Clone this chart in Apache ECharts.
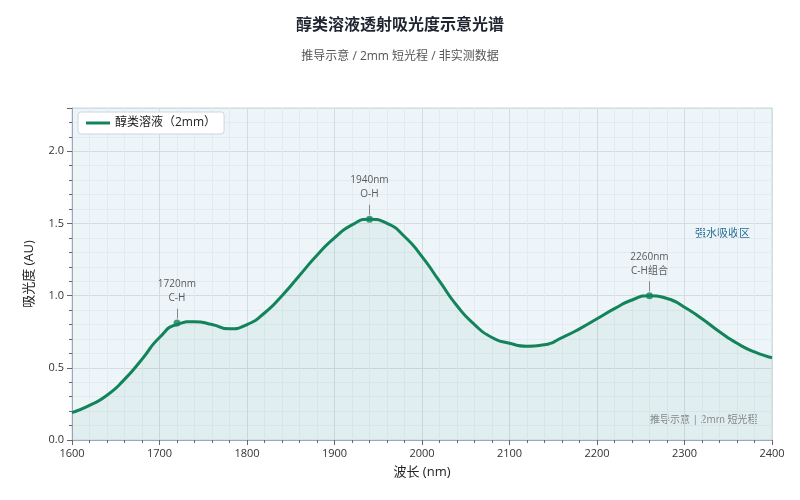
<!DOCTYPE html>
<html><head><meta charset="utf-8">
<script src="https://cdn.jsdelivr.net/npm/echarts@6/dist/echarts.min.js"></script>
<style>body{margin:0}#main{width:800px;height:500px}</style>
</head><body><div id="main"></div>
<script>
var wavelengths = [1600,1620,1640,1660,1680,1700,1720,1740,1760,1780,1800,1820,1840,1860,1880,1900,1920,1940,1960,1980,2000,2020,2040,2060,2080,2100,2120,2140,2160,2180,2200,2220,2240,2260,2280,2300,2320,2340,2360,2380,2400];
var absorbance = [0.19,0.24,0.31,0.42,0.56,0.71,0.80,0.82,0.80,0.77,0.80,0.88,1.00,1.14,1.28,1.40,1.49,1.53,1.50,1.41,1.27,1.10,0.93,0.80,0.71,0.67,0.65,0.66,0.71,0.77,0.84,0.91,0.97,1.00,0.98,0.92,0.84,0.75,0.67,0.61,0.57];
var peaks = [[1720,0.81,'1720nm\nC-H'],[1940,1.53,'1940nm\nO-H'],[2260,1.00,'2260nm\nC-H组合']];

var myChart = echarts.init(document.getElementById('main'));
var font = 'Open Sans, Noto Sans CJK SC';
option = {
    textStyle: {fontFamily: font},
    title: {
        text: '醇类溶液透射吸光度示意光谱',
        subtext: '推导示意 / 2mm 短光程 / 非实测数据',
        left: 'center', top: 12,
        textStyle: {fontSize: 16, fontWeight: 'bold', color: '#1f2430', fontFamily: font},
        subtextStyle: {fontSize: 12, color: '#555', fontFamily: font},
        itemGap: 18
    },
    legend: {
        left: 78, top: 112,
        backgroundColor: '#fff', borderColor: '#ccd6e0', borderWidth: 1, borderRadius: 3,
        padding: [5, 8],
        itemWidth: 24, itemHeight: 3,
        textStyle: {fontSize: 12, color: '#222'},
        data: [{name: '醇类溶液（2mm）', icon: 'rect'}]
    },
    grid: {left: 72, right: 28, top: 108, bottom: 60, backgroundColor: '#eef5f9', show: true, borderColor: '#cdd8e4', borderWidth: 1},
    xAxis: {
        type: 'value', min: 1600, max: 2400, interval: 100,
        name: '波长 (nm)', nameLocation: 'middle', nameGap: 26, nameTextStyle: {fontSize: 13, color: '#222'},
        axisLine: {lineStyle: {color: '#9aa8b8'}},
        axisTick: {lineStyle: {color: '#666'}},
        minorTick: {show: true, splitNumber: 5, lineStyle: {color: '#666'}},
        axisLabel: {color: '#333', fontSize: 11, formatter: function (v) { return String(v); }},
        splitLine: {lineStyle: {color: '#d3dbe3'}},
        minorSplitLine: {show: true, lineStyle: {color: '#e2ebf1'}}
    },
    yAxis: {
        type: 'value', min: 0, max: 2.3, interval: 0.5,
        name: '吸光度 (AU)', nameLocation: 'middle', nameGap: 36, nameTextStyle: {fontSize: 13, color: '#222'},
        axisLine: {show: true, lineStyle: {color: '#9aa8b8'}},
        axisTick: {show: true, lineStyle: {color: '#666'}},
        minorTick: {show: true, splitNumber: 5, lineStyle: {color: '#666'}},
        axisLabel: {color: '#333', fontSize: 11, showMaxLabel: false, formatter: function (v) { return v.toFixed(1); }},
        splitLine: {lineStyle: {color: '#d3dbe3'}},
        minorSplitLine: {show: true, lineStyle: {color: '#e2ebf1'}}
    },
    series: [
        {
            name: '醇类溶液（2mm）', type: 'line', smooth: 0.6, showSymbol: false,
            color: '#13845a',
            lineStyle: {width: 3, color: '#13845a'},
            areaStyle: {color: 'rgba(19,132,90,0.08)'},
            data: wavelengths.map(function (w, i) { return [w, absorbance[i]]; })
        },
        {
            type: 'scatter', symbolSize: 7, color: '#13845a', silent: true,
            data: peaks.map(function (p) { return {value: [p[0], p[1]], label: {show: true, position: 'top', distance: 14, formatter: p[2], color: '#333', fontSize: 10, lineHeight: 14}}; }),
            markLine: {
                silent: true, symbol: 'none', label: {show: false},
                lineStyle: {color: '#888', width: 1, type: 'solid'},
                data: peaks.map(function (p) { return [{coord: [p[0], p[1] + 0.03]}, {coord: [p[0], p[1] + 0.1]}]; })
            }
        }
    ],
    graphic: [
        {type: 'text', left: 695, top: 228, style: {text: '强水吸收区', fill: '#2a6f97', fontSize: 11, fontFamily: font}},
        {type: 'text', left: 650, top: 415, style: {text: '推导示意 | 2mm 短光程', fill: '#888', fontSize: 10, fontFamily: font}}
    ]
};
myChart.setOption(option);
</script></body></html>
